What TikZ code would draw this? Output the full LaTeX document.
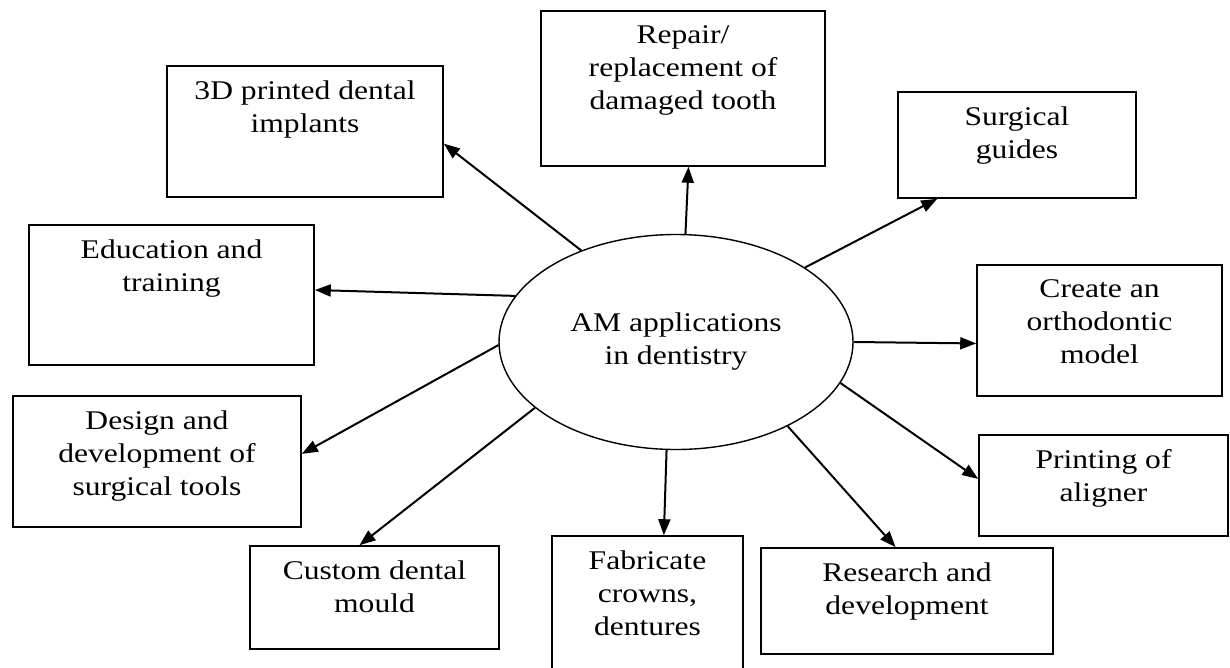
\documentclass[tikz,border=0pt]{standalone}
\usepackage{fontspec}
\setmainfont[FakeStretch=1.17]{Liberation Serif}
\usetikzlibrary{arrows.meta,shapes.geometric}

\tikzset{
    box/.style 2 args={draw, line width=0.8pt, minimum width=#1, minimum height=#2, inner sep=0pt},
    txt/.style={anchor=north, yshift=-7.5pt, inner sep=0pt, align=center},
    arr/.style={line width=1pt, -{Triangle[length=8pt,width=6pt]}}
}

\begin{document}
\begin{tikzpicture}[x=0.5pt, y=-0.5pt, font=\fontsize{13.5}{16.5}\selectfont]
        \useasboundingbox (0,0) rectangle (1230,668);

        % centre
        \node[draw, ellipse, line width=0.7pt, minimum width=177pt, minimum height=107.5pt, align=center] (hub) at (676,342) {AM applications\\in dentistry};

        % boxes round it
        \node[box={138pt}{65.5pt}, label={[txt]north:{3D printed dental\\implants}}] (implants) at (305,131.5) {};
        \node[box={142pt}{77.5pt}, label={[txt]north:{Repair/\\replacement of\\damaged tooth}}] (repair) at (683,88.5) {};
        \node[box={119pt}{53pt}, label={[txt]north:{Surgical\\guides}}] (guides) at (1017,145) {};
        \node[box={142.5pt}{70pt}, label={[txt]north:{Education and\\training}}] (education) at (171.5,295) {};
        \node[box={122.5pt}{65.5pt}, label={[txt]north:{Create an\\orthodontic\\model}}] (ortho) at (1099.5,330.5) {};
        \node[box={144pt}{65.5pt}, label={[txt]north:{Design and\\development of\\surgical tools}}] (tools) at (157,461.5) {};
        \node[box={124.5pt}{50.5pt}, label={[txt]north:{Printing of\\aligner}}] (aligner) at (1103.5,485.5) {};
        \node[box={124.5pt}{51.5pt}, label={[txt]north:{Custom dental\\mould}}] (mould) at (374.5,597.5) {};
        \node[box={95.5pt}{70pt}, label={[txt]north:{Fabricate\\crowns,\\dentures}}] (crowns) at (647.5,606) {};
        \node[box={146pt}{53pt}, label={[txt]north:{Research and\\development}}] (research) at (907,601) {};

        % arrows
        \draw[arr] (hub.136) -- (implants.-5);
        \draw[arr] (hub.85) -- (repair.-86);
        \draw[arr] (hub.30) -- (guides.214);
        \draw[arr] (hub.164.5) -- (education.2);
        \draw[arr] (hub.0) -- (ortho.186);
        \draw[arr] (hub.181) -- (tools.3);
        \draw[arr] (hub.-14.5) -- (aligner.177);
        \draw[arr] (hub.205) -- (mould.106);
        \draw[arr] (hub.265) -- (crowns.77);
        \draw[arr] (hub.-37) -- (research.102);
    \end{tikzpicture}
\end{document}
